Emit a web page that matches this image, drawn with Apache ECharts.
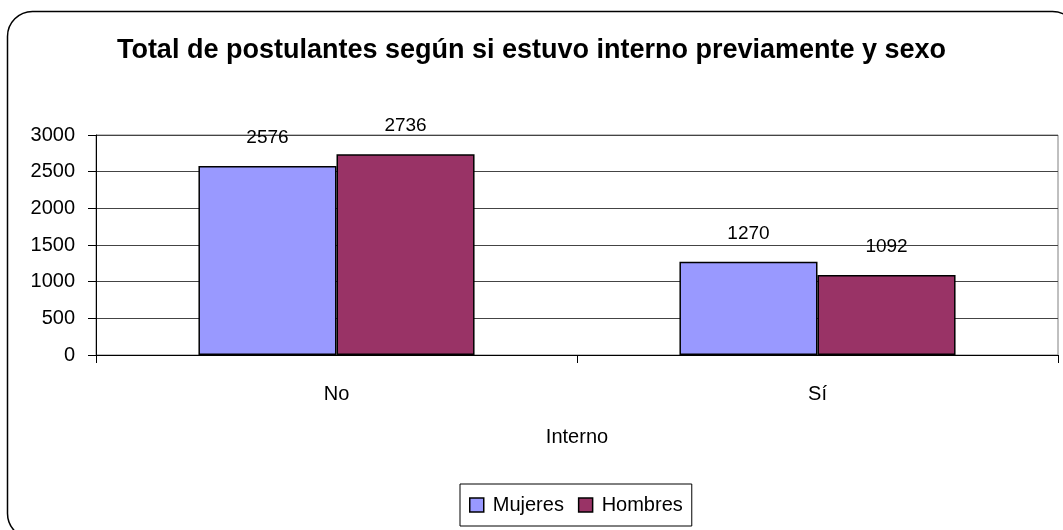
<!DOCTYPE html>
<html>
<head>
<meta charset="utf-8">
<script src="https://cdn.jsdelivr.net/npm/echarts@6/dist/echarts.min.js"></script>
<style>html,body{margin:0;padding:0;background:#fff}#c{width:1063px;height:530px}</style>
</head>
<body>
<div id="c"></div>
<script>
const categories = ['No', 'Sí'];
const mujeres = [2576, 1270];
const hombres = [2736, 1092];
const seriesNames = ['Mujeres', 'Hombres'];
const titleText = 'Total de postulantes según si estuvo interno previamente y sexo';
const xAxisName = 'Interno';

const FONT = '"Liberation Sans", Arial, sans-serif';
const chart = echarts.init(document.getElementById('c'), null, {renderer: 'canvas'});
const labelCfg = {show: true, position: 'top', distance: 19, color: '#000', fontSize: 19, fontFamily: FONT};
chart.setOption({
  animation: false,
  backgroundColor: '#fff',
  title: {
    text: titleText, left: 'center', top: 32,
    textStyle: {fontSize: 27, fontWeight: 'bold', color: '#000', fontFamily: FONT}
  },
  graphic: [{
    type: 'rect', silent: true, z: 100,
    shape: {x: 7.5, y: 11.5, width: 1070, height: 527, r: 25},
    style: {fill: 'none', stroke: '#000', lineWidth: 1.5}
  }],
  legend: {
    data: seriesNames, left: 460, top: 484,
    itemWidth: 14, itemHeight: 14, itemGap: 14,
    icon: 'rect',
    borderColor: '#000', borderWidth: 1, padding: [11, 9, 11, 9],
    itemStyle: {borderColor: '#000', borderWidth: 1.5},
    textStyle: {fontSize: 20, color: '#000', fontFamily: FONT, padding: [0, 0, 0, 4]}
  },
  grid: {left: 96, right: 5, top: 135, bottom: 175, show: true, borderColor: '#808080', borderWidth: 1},
  xAxis: {
    type: 'category', data: categories,
    name: xAxisName, nameLocation: 'middle', nameGap: 72,
    nameTextStyle: {fontSize: 20, color: '#000', fontFamily: FONT},
    axisLine: {lineStyle: {color: '#000', width: 1}},
    axisTick: {show: true, alignWithLabel: false, length: 8, lineStyle: {color: '#000'}},
    axisLabel: {fontSize: 20, color: '#000', fontFamily: FONT, margin: 29}
  },
  yAxis: {
    type: 'value', min: 0, max: 3000, interval: 500,
    axisLine: {show: true, lineStyle: {color: '#000', width: 1}},
    axisTick: {show: true, length: 8, lineStyle: {color: '#000'}},
    axisLabel: {fontSize: 20, color: '#000', fontFamily: FONT, margin: 21, formatter: v => String(v)},
    splitLine: {lineStyle: {color: '#444', width: 1}}
  },
  series: [
    {
      name: seriesNames[0], type: 'bar', data: mujeres,
      barGap: '0%', barCategoryGap: '42.6%',
      itemStyle: {color: '#9999FF', borderColor: '#000', borderWidth: 1.5},
      label: labelCfg
    },
    {
      name: seriesNames[1], type: 'bar', data: hombres,
      barGap: '0%', barCategoryGap: '42.6%',
      itemStyle: {color: '#993366', borderColor: '#000', borderWidth: 1.5},
      label: labelCfg
    }
  ]
});
</script>
</body>
</html>
